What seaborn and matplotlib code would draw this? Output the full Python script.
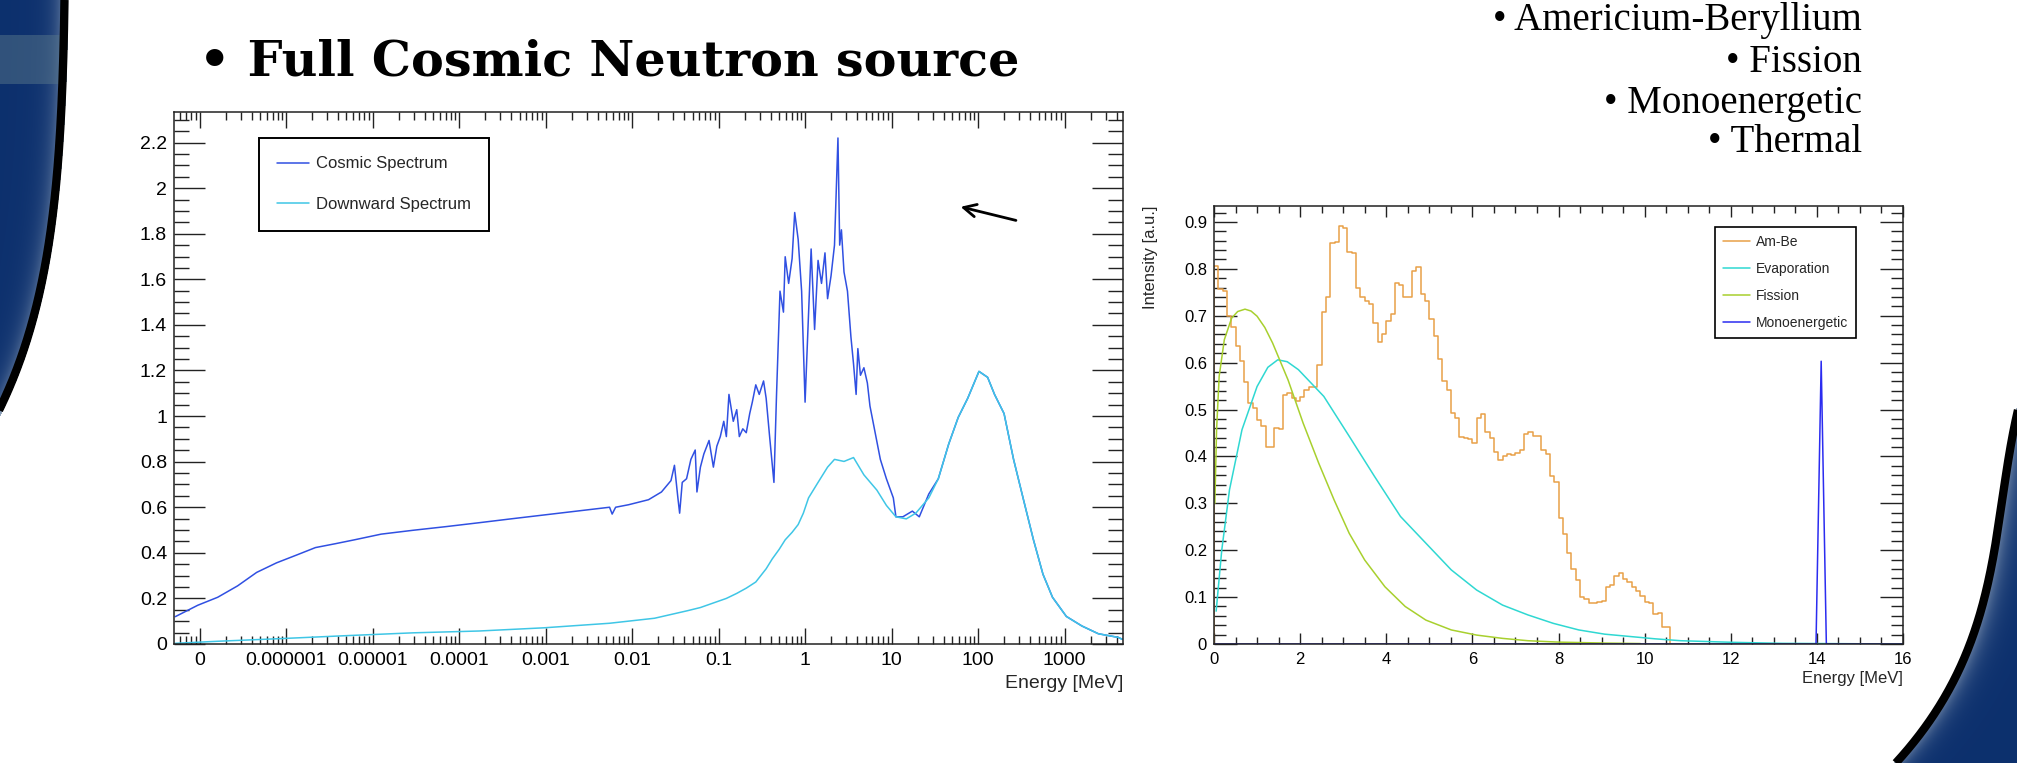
import numpy as np
import pandas as pd
import matplotlib
matplotlib.use("Agg")
import matplotlib.pyplot as plt
import seaborn as sns
from matplotlib.ticker import (MultipleLocator, LogLocator, NullFormatter,
                               FuncFormatter)

# ---------------- data ----------------
# Left panel: log10(Energy / MeV) and normalised intensity
COSMIC_LOG_E = [-7.28, -7.02, -6.79, -6.56, -6.34, -6.11, -5.88, -5.66, -5.43, -5.21,
                -4.90, -4.53, -4.15, -3.77, -3.40, -3.02, -2.64, -2.26, -2.23, -2.19,
                -2.04, -1.81, -1.66, -1.55, -1.51, -1.47, -1.45, -1.42, -1.37, -1.32,
                -1.27, -1.25, -1.21, -1.17, -1.11, -1.06, -1.02, -0.98, -0.94, -0.91,
                -0.88, -0.83, -0.79, -0.76, -0.72, -0.68, -0.64, -0.61, -0.57, -0.53,
                -0.48, -0.45, -0.41, -0.36, -0.33, -0.29, -0.25, -0.23, -0.19, -0.15,
                -0.12, -0.08, -0.04, 0.00, 0.04, 0.07, 0.11, 0.15, 0.19, 0.23,
                0.26, 0.30, 0.34, 0.38, 0.40, 0.42, 0.45, 0.49, 0.53, 0.56,
                0.59, 0.61, 0.64, 0.68, 0.72, 0.75, 0.81, 0.87, 0.94, 1.02,
                1.05, 1.13, 1.24, 1.32, 1.43, 1.54, 1.66, 1.77, 1.88, 2.01,
                2.11, 2.19, 2.30, 2.41, 2.53, 2.64, 2.75, 2.86, 3.02, 3.20,
                3.39, 3.62, 3.67]
COSMIC_VAL = [0.12, 0.17, 0.205, 0.255, 0.314, 0.356, 0.39, 0.423, 0.44, 0.457,
              0.482, 0.499, 0.515, 0.532, 0.549, 0.566, 0.583, 0.60, 0.57, 0.60,
              0.611, 0.633, 0.667, 0.717, 0.784, 0.64, 0.574, 0.709, 0.725, 0.81,
              0.851, 0.667, 0.776, 0.834, 0.893, 0.776, 0.868, 0.91, 0.977, 0.91,
              1.095, 0.977, 1.028, 0.91, 0.944, 0.927, 1.011, 1.061, 1.137, 1.095,
              1.154, 1.078, 0.91, 0.709, 1.095, 1.548, 1.456, 1.699, 1.582, 1.691,
              1.893, 1.775, 1.548, 1.061, 1.448, 1.733, 1.38, 1.683, 1.582, 1.716,
              1.515, 1.615, 1.75, 2.22, 1.75, 1.817, 1.632, 1.548, 1.347, 1.229,
              1.095, 1.296, 1.179, 1.212, 1.145, 1.044, 0.927, 0.81, 0.725, 0.641,
              0.558, 0.558, 0.583, 0.558, 0.658, 0.725, 0.877, 0.994, 1.078, 1.196,
              1.17, 1.095, 1.011, 0.81, 0.625, 0.457, 0.306, 0.205, 0.121, 0.079,
              0.045, 0.029, 0.02]

DOWN_LOG_E = [-7.28, -6.79, -6.04, -5.28, -4.53, -3.77, -3.02, -2.26, -1.74, -1.36,
              -1.21, -1.06, -0.91, -0.79, -0.68, -0.57, -0.45, -0.38, -0.30, -0.23,
              -0.15, -0.08, -0.02, 0.04, 0.15, 0.26, 0.34, 0.45, 0.56, 0.68,
              0.83, 0.94, 1.05, 1.17, 1.28, 1.43, 1.54, 1.66, 1.77, 1.88,
              2.01, 2.11, 2.19, 2.30, 2.41, 2.53, 2.64, 2.75, 2.86, 3.02,
              3.20, 3.39, 3.62, 3.67]
DOWN_VAL = [0.003, 0.012, 0.024, 0.037, 0.049, 0.057, 0.071, 0.091, 0.113, 0.146,
            0.16, 0.18, 0.20, 0.222, 0.245, 0.272, 0.33, 0.373, 0.415, 0.457,
            0.49, 0.524, 0.574, 0.641, 0.709, 0.776, 0.81, 0.801, 0.818, 0.742,
            0.675, 0.608, 0.558, 0.549, 0.574, 0.641, 0.725, 0.877, 0.994, 1.078,
            1.196, 1.17, 1.095, 1.011, 0.81, 0.625, 0.457, 0.306, 0.205, 0.121,
            0.079, 0.045, 0.029, 0.02]

LEFT_XTICKS = [1e-7, 1e-6, 1e-5, 1e-4, 1e-3, 1e-2, 1e-1, 1, 10, 100, 1000]
LEFT_XTICK_LABELS = ["0", "0.000001", "0.00001", "0.0001", "0.001", "0.01",
                     "0.1", "1", "10", "100", "1000"]

# Right panel: Am-Be histogram (0.1 MeV bins starting at 0)
AMBE_BIN_START = 0.0
AMBE_BIN_WIDTH = 0.1
AMBE_VAL = [0.805, 0.758, 0.753, 0.699, 0.676, 0.635, 0.603, 0.558, 0.514, 0.503,
            0.478, 0.465, 0.42, 0.42, 0.46, 0.458, 0.531, 0.535, 0.524, 0.519,
            0.526, 0.542, 0.548, 0.549, 0.595, 0.709, 0.74, 0.855, 0.857, 0.892,
            0.887, 0.836, 0.834, 0.759, 0.74, 0.731, 0.724, 0.684, 0.645, 0.662,
            0.688, 0.704, 0.77, 0.766, 0.74, 0.74, 0.795, 0.804, 0.747, 0.731,
            0.692, 0.656, 0.608, 0.56, 0.542, 0.492, 0.482, 0.441, 0.439, 0.437,
            0.428, 0.482, 0.491, 0.453, 0.439, 0.41, 0.393, 0.40, 0.405, 0.403,
            0.407, 0.414, 0.448, 0.452, 0.444, 0.444, 0.413, 0.406, 0.359, 0.346,
            0.268, 0.235, 0.195, 0.159, 0.137, 0.101, 0.097, 0.088, 0.088, 0.09,
            0.092, 0.122, 0.126, 0.144, 0.151, 0.138, 0.133, 0.122, 0.114, 0.102,
            0.089, 0.087, 0.065, 0.067, 0.036, 0.036]

EVAP_E = [0.05, 0.18, 0.36, 0.65, 1.0, 1.25, 1.48, 1.7, 1.96, 2.55, 3.14, 3.73,
          4.33, 4.92, 5.51, 6.1, 6.7, 7.29, 7.88, 8.47, 9.07, 9.66, 10.25, 10.84,
          12.03, 13.2, 16.0]
EVAP_I = [0.07, 0.2, 0.329, 0.457, 0.549, 0.59, 0.606, 0.602, 0.585, 0.528, 0.443,
          0.357, 0.272, 0.215, 0.158, 0.115, 0.083, 0.062, 0.044, 0.03, 0.021,
          0.016, 0.011, 0.007, 0.0036, 0.0014, 0.0]

FISS_E = [0.02, 0.06, 0.12, 0.24, 0.41, 0.55, 0.72, 0.86, 1.0, 1.18, 1.36, 1.72,
          2.07, 2.43, 2.79, 3.14, 3.5, 3.97, 4.44, 4.92, 5.51, 6.1, 6.7, 7.29,
          8.0, 9.07, 9.9]
FISS_I = [0.3, 0.457, 0.571, 0.649, 0.695, 0.709, 0.714, 0.710, 0.699, 0.675,
          0.642, 0.563, 0.471, 0.386, 0.307, 0.236, 0.179, 0.122, 0.08, 0.051,
          0.03, 0.019, 0.012, 0.007, 0.004, 0.002, 0.001]

MONO_E = [0.0, 13.98, 14.1, 14.22, 16.0]
MONO_I = [0.0, 0.0, 0.603, 0.0, 0.0]

TITLE = "\u2022 Full Cosmic Neutron source"
SOURCE_ITEMS = ["\u2022 Americium-Beryllium", "\u2022 Fission",
                "\u2022 Monoenergetic", "\u2022 Thermal"]

# ---------------- style ----------------
sns.set_style("white")
plt.rcParams['font.family'] = ['Liberation Sans', 'DejaVu Sans']

C_COSMIC = "#3050e2"
C_DOWN = "#3fc6e6"
C_AMBE = "#e8a048"
C_EVAP = "#2fd8d2"
C_FISS = "#a8d02e"
C_MONO = "#2b2cf0"

W, H = 2017, 763
fig = plt.figure(figsize=(W / 100, H / 100), dpi=100)
fig.patch.set_facecolor("white")

# ---------------- decorative slide background ----------------
bg = fig.add_axes([0, 0, 1, 1], zorder=-5)
bg.axis('off')

navy = np.array([0.05, 0.19, 0.43])
light = np.array([0.60, 0.67, 0.75])
band = np.array([0.34, 0.46, 0.54])

# left swoosh
lys = np.array([0, 50, 100, 146, 200, 244, 293, 341, 390, 415])
lxs = np.array([68, 67, 65, 63, 58, 52, 43, 30, 12, 0])
lp = np.polyfit(lys, lxs, 4)
yy = np.arange(0, 440)
xc = np.polyval(lp, yy)
gx = np.arange(0, 80)
GX, GY = np.meshgrid(gx, yy)
XC = np.polyval(lp, GY)
d = XC - GX
wl = np.exp(-np.clip(d, 0, None) / 9.0)[..., None]
img = navy * (1 - wl) + light * wl
bandmask = ((GY > 34) & (GY < 84))[..., None] * 0.5
img = img * (1 - bandmask) + band * bandmask
alpha = (d > 0).astype(float)[..., None]
bg.imshow(np.concatenate([img, alpha], axis=2), extent=(0, 80, 440, 0),
          interpolation='bilinear', aspect='auto', zorder=0)
m = xc > -6
bg.plot(xc[m] - 3.5, yy[m], color='black', lw=6, solid_capstyle='butt', zorder=1)

# right swoosh
rys = np.array([395, 467, 533, 600, 667, 717, 763])
rxs = np.array([2017, 2007, 1993, 1977, 1957, 1933, 1890])
rp = np.polyfit(rys, rxs, 3)
yy2 = np.arange(370, 764)
xc2 = np.polyval(rp, yy2)
gx2 = np.arange(1870, 2018)
GX2, GY2 = np.meshgrid(gx2, yy2)
XC2 = np.polyval(rp, GY2)
d2 = GX2 - XC2
wl2 = np.exp(-np.clip(d2, 0, None) / 10.0)[..., None]
img2 = navy * (1 - wl2) + light * wl2
alpha2 = (d2 > 0).astype(float)[..., None]
bg.imshow(np.concatenate([img2, alpha2], axis=2), extent=(1870, 2018, 764, 370),
          interpolation='bilinear', aspect='auto', zorder=0)
m2 = xc2 < W + 6
bg.plot(xc2[m2] + 3.5, yy2[m2], color='black', lw=6, solid_capstyle='butt', zorder=1)
bg.set_xlim(0, W)
bg.set_ylim(H, 0)

# ---------------- slide texts ----------------
fig.text(199 / W, 1 - 76 / H, TITLE, fontfamily='DejaVu Serif', fontweight='bold',
         fontsize=35.5, ha='left', va='baseline', color='black')
for txt, yb in zip(SOURCE_ITEMS, [30, 72, 113, 152]):
    fig.text(1862 / W, 1 - yb / H, txt, fontfamily='Liberation Serif', fontsize=28,
             ha='right', va='baseline', color='black')


def root_style(ax, ylen, ylen_min, xlen, xlen_min, lsize):
    for sp in ax.spines.values():
        sp.set_visible(True)
        sp.set_color('#222222')
        sp.set_linewidth(1.1)
    ax.tick_params(which='both', direction='in', top=True, right=True,
                   bottom=True, left=True, colors='#222222', width=1.0,
                   labelsize=lsize, labelcolor='black')
    ax.tick_params(axis='y', which='major', length=ylen, pad=5)
    ax.tick_params(axis='y', which='minor', length=ylen_min)
    ax.tick_params(axis='x', which='major', length=xlen, pad=6)
    ax.tick_params(axis='x', which='minor', length=xlen_min)
    ax.set_facecolor('white')


def trim(v, p=None):
    return f"{v:.1f}".rstrip('0').rstrip('.')


# ---------------- left panel ----------------
ax1 = fig.add_axes([174 / W, 1 - 644 / H, 949 / W, 532 / H])
df_c = pd.DataFrame({"E": 10.0 ** np.array(COSMIC_LOG_E), "I": COSMIC_VAL})
df_d = pd.DataFrame({"E": 10.0 ** np.array(DOWN_LOG_E), "I": DOWN_VAL})
sns.lineplot(data=df_c, x="E", y="I", ax=ax1, color=C_COSMIC, lw=1.1,
             estimator=None, sort=False, label="Cosmic Spectrum")
sns.lineplot(data=df_d, x="E", y="I", ax=ax1, color=C_DOWN, lw=1.1,
             estimator=None, sort=False, label="Downward Spectrum")
ax1.set_xscale('log')
ax1.set_xlim(10 ** -7.295, 10 ** 3.675)
ax1.set_ylim(0, 2.334)
ax1.set_xticks(LEFT_XTICKS)
ax1.set_xticklabels(LEFT_XTICK_LABELS)
ax1.xaxis.set_minor_locator(LogLocator(base=10, subs=np.arange(2, 10), numticks=300))
ax1.xaxis.set_minor_formatter(NullFormatter())
ax1.yaxis.set_major_locator(MultipleLocator(0.2))
ax1.yaxis.set_minor_locator(MultipleLocator(0.05))
ax1.yaxis.set_major_formatter(FuncFormatter(trim))
root_style(ax1, 22, 11, 11.5, 6, 14)
ax1.set_ylabel("")
ax1.set_xlabel("Energy [MeV]", fontsize=14, loc='right')
ax1.xaxis.set_label_coords(1.0, -0.058)
h, l = ax1.get_legend_handles_labels()
leg1 = ax1.legend(h, l, loc='upper left', bbox_to_anchor=(0.0896, 0.951),
                  frameon=True, fancybox=False, edgecolor='black', framealpha=1,
                  fontsize=12, borderpad=1.1, labelspacing=1.55, handlelength=1.9,
                  handletextpad=0.4, borderaxespad=0)
leg1.get_frame().set_linewidth(1.4)
ax1.annotate('', xy=(0.826, 0.823), xytext=(0.890, 0.795), xycoords='axes fraction',
             arrowprops=dict(arrowstyle='->,head_length=0.9,head_width=0.45',
                             color='black', lw=2))

# ---------------- right panel ----------------
ax2 = fig.add_axes([1214 / W, 1 - 644 / H, 689 / W, 438 / H])
n = len(AMBE_VAL)
edges = [round(AMBE_BIN_START + i * AMBE_BIN_WIDTH, 3) for i in range(n + 1)]
df_a = pd.DataFrame({"E": [edges[0]] + edges, "I": [0.0] + AMBE_VAL + [0.0]})
sns.lineplot(data=df_a, x="E", y="I", ax=ax2, color=C_AMBE, lw=1.1,
             estimator=None, sort=False, drawstyle='steps-post', label="Am-Be")
sns.lineplot(x=EVAP_E, y=EVAP_I, ax=ax2, color=C_EVAP, lw=1.1,
             estimator=None, sort=False, label="Evaporation")
sns.lineplot(x=FISS_E, y=FISS_I, ax=ax2, color=C_FISS, lw=1.1,
             estimator=None, sort=False, label="Fission")
sns.lineplot(x=MONO_E, y=MONO_I, ax=ax2, color=C_MONO, lw=1.1,
             estimator=None, sort=False, label="Monoenergetic")
ax2.set_xlim(0, 16)
ax2.set_ylim(0, 0.934)
ax2.xaxis.set_major_locator(MultipleLocator(2))
ax2.xaxis.set_minor_locator(MultipleLocator(0.5))
ax2.yaxis.set_major_locator(MultipleLocator(0.1))
ax2.yaxis.set_minor_locator(MultipleLocator(0.02))
ax2.yaxis.set_major_formatter(FuncFormatter(trim))
ax2.xaxis.set_major_formatter(FuncFormatter(lambda v, p: f"{v:g}"))
root_style(ax2, 16.5, 8.5, 8, 5, 12)
ax2.set_xlabel("Energy [MeV]", fontsize=12, loc='right')
ax2.xaxis.set_label_coords(1.0, -0.062)
ax2.set_ylabel("Intensity [a.u.]", fontsize=12, loc='top')
ax2.yaxis.set_label_coords(-0.081, 1.0)
h, l = ax2.get_legend_handles_labels()
leg2 = ax2.legend(h, l, loc='upper left', bbox_to_anchor=(0.727, 0.952),
                  frameon=True, fancybox=False, edgecolor='black', framealpha=1,
                  fontsize=10, borderpad=0.55, labelspacing=0.95, handlelength=2.0,
                  handletextpad=0.4, borderaxespad=0)
leg2.get_frame().set_linewidth(1.2)

fig.savefig("out.png", dpi=100, facecolor='white')
